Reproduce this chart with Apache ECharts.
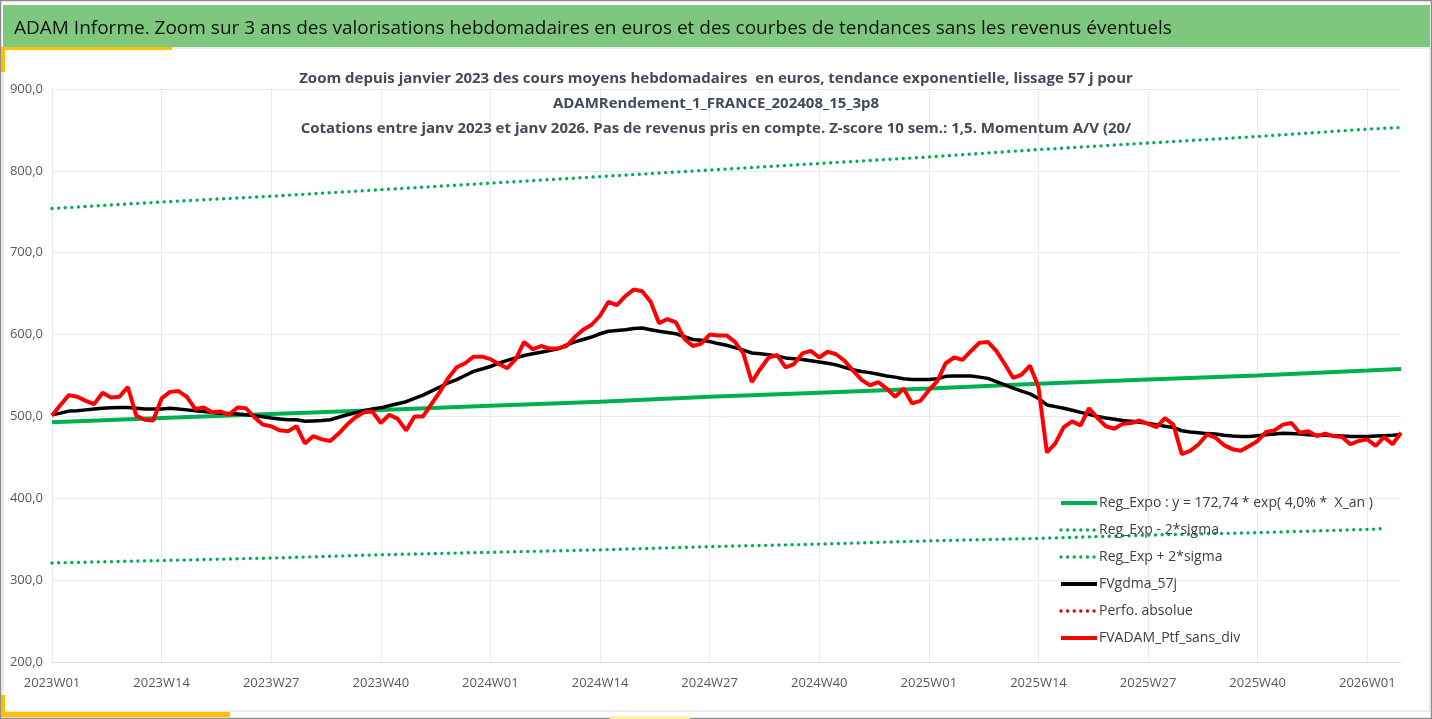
<!DOCTYPE html>
<html>
<head>
<meta charset="utf-8">
<script src="https://cdn.jsdelivr.net/npm/echarts@6/dist/echarts.min.js"></script>
<style>
html,body{margin:0;padding:0;background:#fff;}
#chart{width:1432px;height:719px;}
</style>
</head>
<body>
<div id="chart"></div>
<script>
// ---------- DATA ----------
const years = [2023, 2024, 2025];
const weeksPerYear = 52;
const lastYear = 2026;
const lastYearWeeks = 5;
const categories = [];
years.forEach(y => { for (let w = 1; w <= weeksPerYear; w++) categories.push(y + 'W' + String(w).padStart(2, '0')); });
for (let w = 1; w <= lastYearWeeks; w++) categories.push(lastYear + 'W' + String(w).padStart(2, '0'));

const yTicks = [200, 300, 400, 500, 600, 700, 800, 900];

// Trend lines read at label positions (category indices)
const trendIdx   = [0, 13, 26, 39, 52, 65, 78, 91, 104, 117, 130, 143, 156, 160];
const regExpo    = [493, 498, 503, 508, 513, 518, 524, 529, 534, 540, 545, 550, 556, 558];
const regUpper   = [754, 762, 769, 777, 785, 793, 801, 809, 817, 826, 834, 842, 851, 853];
const lowerIdx   = [0, 13, 26, 39, 52, 65, 78, 91, 104, 117, 130, 143, 156, 158];
const regLower   = [321, 324, 327, 331, 334, 337, 341, 344, 348, 351, 355, 358, 362, 363];

const fvgdma = [
502,504,506.5,507,508,509,510,510.5,511,511,510,509,509,509,510,509,508,507,506,505,
504,503.5,503,502,501,499.5,498,497,496,496,494,494.5,495,496,499,502,504.5,507,509,510.5,
513,515.5,518,522,526,531,536,541,545,550,555,558,561,565,568.5,571.5,574.5,576.5,578.5,580.5,
582.5,587,591,594,597,601,604,605,606,607.5,608,606,604,602.5,601,597.5,594,593,591.5,589,
587,584,581,577.5,576.5,575.5,573.5,571.5,570.5,569.5,568,566.5,565,563,560,557,555,553.5,551.5,549.5,
548,546,545,545,545,546,549,549.5,549.5,549.5,548,546.5,542.5,538.5,534.5,531,527.5,522,514,512,
510,507.5,505,502.5,500,498,496.5,495,494,493,491.5,490,488,486.5,482.5,481,480,479,478.5,477,
476,475.5,475.5,476.5,477.5,478.5,479.5,479,478.5,477.5,477,477,476.5,476,475.5,475.5,475.5,476,476.5,477,
478
];

const fvadam = [
501,514,526,524,519,515,529,523,524,536,501,496,495,522,530,531,524,509,511,505,
506,502,511,510,499,490,488,483,482,488,467,476,472,470,479,490,499,505,506,492,
502,497,483,500,500,515,530,547,560,565,573,573,570,564,559,570,591,582,586,583,
583,586,597,606,612,623,640,636,647,655,653,640,614,619,615,595,586,589,600,599,
599,591,577,542,558,572,575,560,564,577,580,572,579,576,568,556,545,538,542,534,
524,534,516,519,532,543,565,572,569,580,590,591,580,564,547,551,562,536,456,467,
487,494,489,510,498,488,485,491,492,495,491,487,498,490,454,458,466,478,474,465,
460,458,464,470,481,483,490,492,480,482,476,479,476,475,466,470,472,464,475,466,
480
];

const perfoAbsolue = [];

const legendNames = [
  'Reg_Expo : y = 172,74 * exp( 4,0% *  X_an )',
  'Reg_Exp - 2*sigma',
  'Reg_Exp + 2*sigma',
  'FVgdma_57j',
  'Perfo. absolue',
  'FVADAM_Ptf_sans_div'
];

const mainTitle = 'ADAM Informe. Zoom sur 3 ans des valorisations hebdomadaires en euros et des courbes de tendances sans les revenus éventuels';
const subTitles = [
  'Zoom depuis janvier 2023 des cours moyens hebdomadaires  en euros, tendance exponentielle, lissage 57 j pour',
  'ADAMRendement_1_FRANCE_202408_15_3p8',
  'Cotations entre janv 2023 et janv 2026. Pas de revenus pris en compte. Z-score 10 sem.: 1,5. Momentum A/V (20/'
];

// ---------- CHART ----------
const FONT = "'Open Sans', sans-serif";
const pairs = (idx, vals) => idx.map((k, j) => [categories[k], vals[j]]);
const dotted = { type: [0.01, 6.6], cap: 'round' };
const GREEN = '#00b050';

const legendStyles = [
  { color: GREEN, width: 4, type: 'solid' },
  Object.assign({ color: GREEN, width: 3.4 }, dotted),
  Object.assign({ color: GREEN, width: 3.4 }, dotted),
  { color: '#000000', width: 4, type: 'solid' },
  Object.assign({ color: '#e00000', width: 3.4 }, dotted),
  { color: '#ff0000', width: 4, type: 'solid' }
];

const chart = echarts.init(document.getElementById('chart'), null, { renderer: 'canvas' });
chart.setOption({
  animation: false,
  backgroundColor: '#ffffff',
  textStyle: { fontFamily: FONT },
  graphic: [
    { type: 'rect', shape: { x: 0.5, y: 0.5, width: 1431, height: 718 }, style: { fill: 'none', stroke: '#8c8c8c', lineWidth: 1.5 }, z: 0 },
    { type: 'rect', shape: { x: 3, y: 5, width: 1427, height: 42 }, style: { fill: '#7dc87e' }, z: 0 },
    { type: 'rect', shape: { x: 3, y: 48, width: 1427, height: 663 }, style: { fill: 'none', stroke: '#d9d9d9', lineWidth: 1 }, z: 0 },
    { type: 'rect', shape: { x: 2, y: 47, width: 170, height: 3 }, style: { fill: '#ffc000' }, z: 1 },
    { type: 'rect', shape: { x: 1, y: 47, width: 4, height: 25 }, style: { fill: '#ffc000' }, z: 1 },
    { type: 'rect', shape: { x: 1, y: 695, width: 4, height: 22 }, style: { fill: '#ffc000' }, z: 1 },
    { type: 'rect', shape: { x: 1, y: 712, width: 229, height: 5 }, style: { fill: '#ffc000' }, z: 1 },
    { type: 'rect', shape: { x: 610, y: 716, width: 80, height: 3 }, style: { fill: '#fff3a6' }, z: 1 }
  ],
  title: [
    { text: mainTitle, left: 9, top: 14, textStyle: { fontFamily: FONT, fontSize: 19, fontWeight: 'normal', color: '#111111' } },
    { text: subTitles[0], left: 'center', top: 66, textStyle: { fontFamily: FONT, fontSize: 15, fontWeight: 'bold', color: '#414b5a' } },
    { text: subTitles[1], left: 'center', top: 91, textStyle: { fontFamily: FONT, fontSize: 15, fontWeight: 'bold', color: '#414b5a' } },
    { text: subTitles[2], left: 'center', top: 116, textStyle: { fontFamily: FONT, fontSize: 15, fontWeight: 'bold', color: '#414b5a' } }
  ],
  grid: { left: 52, right: 31, top: 89, bottom: 57, containLabel: false },
  legend: {
    orient: 'vertical', left: 1054, top: 491, itemWidth: 36, itemHeight: 14, itemGap: 13,
    data: legendNames.map((n, k) => ({ name: n, lineStyle: legendStyles[k] })),
    textStyle: { fontFamily: FONT, fontSize: 14, color: '#404040', padding: [0, 0, 0, -3] },
    itemStyle: { opacity: 0 }
  },
  xAxis: {
    type: 'category', data: categories, boundaryGap: false,
    axisLine: { show: true, lineStyle: { color: '#d9d9d9', width: 1 } },
    axisTick: { show: false },
    axisLabel: { interval: 12, color: '#595959', fontSize: 13, margin: 15, fontFamily: FONT },
    splitLine: { show: true, interval: 12, lineStyle: { color: '#e6e9ef', width: 1 } }
  },
  yAxis: {
    type: 'value', min: yTicks[0], max: yTicks[yTicks.length - 1], interval: 100,
    axisLine: { show: false }, axisTick: { show: false },
    axisLabel: { color: '#595959', fontSize: 13, margin: 9, fontFamily: FONT, formatter: v => v.toFixed(1).replace('.', ',') },
    splitLine: { show: true, lineStyle: { color: '#e6e9ef', width: 1 } }
  },
  series: [
    { name: legendNames[0], type: 'line', data: pairs(trendIdx, regExpo), symbol: 'none', connectNulls: true,
      lineStyle: { color: GREEN, width: 4 }, itemStyle: { color: GREEN }, z: 2 },
    { name: legendNames[1], type: 'line', data: pairs(lowerIdx, regLower), symbol: 'none',
      lineStyle: Object.assign({ color: GREEN, width: 3.4 }, dotted), itemStyle: { color: GREEN }, z: 2 },
    { name: legendNames[2], type: 'line', data: pairs(trendIdx, regUpper), symbol: 'none',
      lineStyle: Object.assign({ color: GREEN, width: 3.4 }, dotted), itemStyle: { color: GREEN }, z: 2 },
    { name: legendNames[3], type: 'line', data: fvgdma, symbol: 'none',
      lineStyle: { color: '#000000', width: 3.5 }, itemStyle: { color: '#000000' }, z: 3 },
    { name: legendNames[4], type: 'line', data: perfoAbsolue, symbol: 'none',
      lineStyle: Object.assign({ color: '#e00000', width: 3 }, dotted), itemStyle: { color: '#e00000' }, z: 3 },
    { name: legendNames[5], type: 'line', data: fvadam, symbol: 'none',
      lineStyle: { color: '#ff0000', width: 4 }, itemStyle: { color: '#ff0000' }, z: 4 }
  ]
});
</script>
</body>
</html>
